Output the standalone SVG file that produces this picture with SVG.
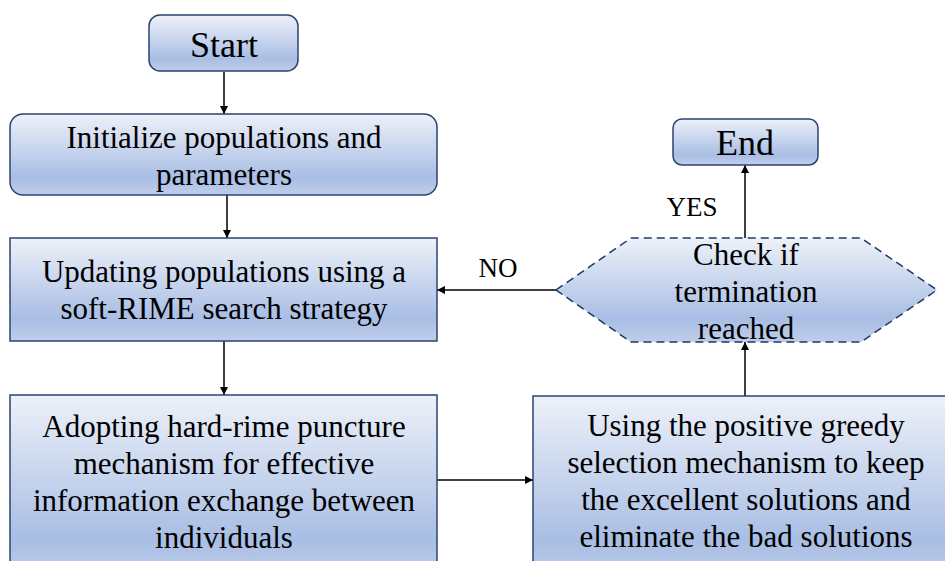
<svg xmlns="http://www.w3.org/2000/svg" width="945" height="561" viewBox="0 0 945 561">
<defs>
<linearGradient id="g" x1="0" y1="0" x2="0" y2="1">
<stop offset="0" stop-color="#edf1f9"/>
<stop offset="0.78" stop-color="#a9bee4"/>
<stop offset="1" stop-color="#bfcdea"/>
</linearGradient>
<marker id="ah" viewBox="0 0 10 10" refX="10" refY="5" markerWidth="8" markerHeight="8" markerUnits="userSpaceOnUse" orient="auto">
<path d="M0,0 L10,5 L0,10 Z" fill="#000"/>
</marker>
<style>
.box{fill:url(#g);stroke:#2b4470;stroke-width:1.5}
.hex{fill:url(#g);stroke:#1f3864;stroke-width:1.5;stroke-dasharray:8 5}
text{font-family:'Liberation Serif','Times New Roman',serif;font-size:31px;fill:#000;text-anchor:middle}
.big{font-size:36px}
.lab{font-size:27px}
.c{stroke:#000;stroke-width:1.5;fill:none;marker-end:url(#ah)}
</style>
</defs>
<rect width="945" height="561" fill="#fff"/>
<g id="connectors">
<line class="c" x1="224" y1="72" x2="224" y2="114"/>
<line class="c" x1="227" y1="195" x2="227" y2="238"/>
<line class="c" x1="224" y1="341" x2="224" y2="395"/>
<line class="c" x1="437" y1="480" x2="533" y2="480"/>
<line class="c" x1="745" y1="396" x2="745" y2="342"/>
<line class="c" x1="745" y1="238" x2="745" y2="165"/>
<line class="c" x1="556" y1="290" x2="437" y2="290"/>
<text class="lab" x="692" y="216">YES</text>
<text class="lab" x="498" y="277">NO</text>
</g>
<g id="start">
<rect class="box" x="149" y="15" width="149" height="56" rx="11"/>
<text class="big" x="224" y="57">Start</text>
</g>
<g id="init">
<rect class="box" x="10" y="114" width="427" height="81" rx="13"/>
<text x="224" y="148">Initialize populations and</text>
<text x="224" y="185">parameters</text>
</g>
<g id="update">
<rect class="box" x="10" y="238" width="427" height="103"/>
<text x="224" y="282">Updating populations using a</text>
<text x="224" y="319">soft-RIME search strategy</text>
</g>
<g id="adopt">
<rect class="box" x="10" y="395" width="427" height="185"/>
<text x="224" y="437">Adopting hard-rime puncture</text>
<text x="224" y="474">mechanism for effective</text>
<text x="224" y="511">information exchange between</text>
<text x="224" y="548">individuals</text>
</g>
<g id="greedy">
<rect class="box" x="533" y="396" width="425" height="185"/>
<text x="746" y="436">Using the positive greedy</text>
<text x="746" y="473">selection mechanism to keep</text>
<text x="746" y="510">the excellent solutions and</text>
<text x="746" y="547">eliminate the bad solutions</text>
</g>
<g id="check">
<polygon class="hex" points="556,290 631,238 861,238 937,290 861,342 631,342"/>
<text x="746" y="265">Check if</text>
<text x="746" y="302">termination</text>
<text x="746" y="339">reached</text>
</g>
<g id="end">
<rect class="box" x="673" y="119" width="145" height="46" rx="9"/>
<text class="big" x="745" y="155">End</text>
</g>
</svg>
